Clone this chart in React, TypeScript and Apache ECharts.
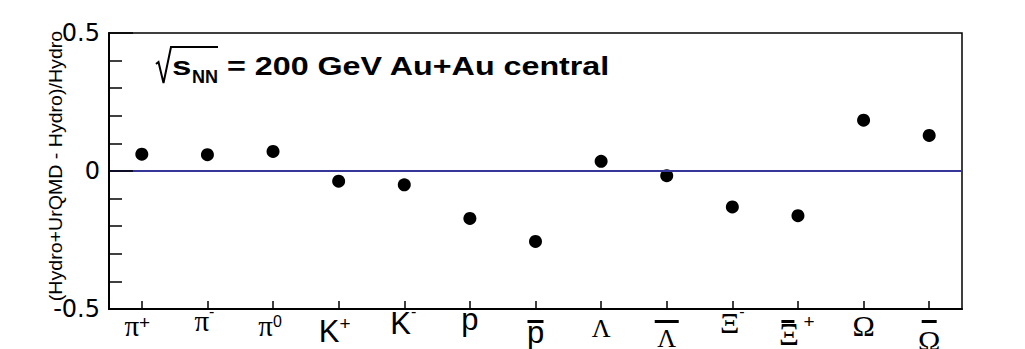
import React, { useEffect, useRef } from 'react';
import * as echarts from 'echarts';

// ---- data ----
const categories = ['π+', 'π-', 'π0', 'K+', 'K-', 'p', 'p̄', 'Λ', 'Λ̄', 'Ξ-', 'Ξ̄+', 'Ω', 'Ω̄'];
const ratios = [0.061, 0.059, 0.071, -0.037, -0.05, -0.172, -0.255, 0.035, -0.017, -0.13, -0.162, 0.184, 0.129];
const yMin = -0.5;
const yMax = 0.5;
const yStep = 0.5;
const referenceLevel = 0;
const yAxisTitle = '(Hydro+UrQMD - Hydro)/Hydro';
const titleS = 's';
const titleSub = 'NN';
const titleRest = '= 200 GeV Au+Au central';

// ---- label markup (rich text) ----
const labelMarkup: Record<string, string> = {
  'π+': '{a0|π}{b0|+}',
  'π-': '{a1|π}{b1|-}',
  'π0': '{a2|π}{b2|0}',
  'K+': '{a3|K}{b3|+}',
  'K-': '{a4|K}{b4|-}',
  'p': '{a5|p}',
  'p̄': '{bar6| }\n{a6|p}',
  'Λ': '{a7|Λ}',
  'Λ̄': '{bar8| }\n{a8|Λ}',
  'Ξ-': '{a9|Ξ}{b9|-}',
  'Ξ̄+': '{bar10| }{b10|+}\n{a10|Ξ}',
  'Ω': '{a11|Ω}',
  'Ω̄': '{bar12| }\n{a12|Ω}',
};

const SANS = 'Liberation Sans';
const SERIF = 'Liberation Serif';
const sty = (family: string, size: number, lh: number, extra: any = {}) => ({
  fontFamily: family,
  fontSize: size,
  lineHeight: lh,
  color: '#000',
  align: 'center',
  ...extra,
});
const bar = (w: number) => ({
  width: w,
  height: 3,
  lineHeight: 13,
  backgroundColor: '#000',
  verticalAlign: 'bottom',
  align: 'center',
  fontSize: 10,
});

const rich: Record<string, any> = {
  a0: sty(SERIF, 29, 31),
  b0: sty(SANS, 19, 31, { padding: [0, 9, 6, 0] }),
  a1: sty(SERIF, 29, 21),
  b1: sty(SANS, 16, 21, { padding: [0, 6, 18, 0] }),
  a2: sty(SERIF, 29, 31),
  b2: sty(SANS, 16, 31, { padding: [0, 6, 8, 0] }),
  a3: sty(SANS, 31, 42),
  b3: sty(SANS, 19, 42, { padding: [0, 8, 16, 0] }),
  a4: sty(SANS, 31, 27),
  b4: sty(SANS, 16, 27, { padding: [0, 2, 24, 0] }),
  a5: sty(SANS, 31, 18),
  bar6: bar(16),
  a6: sty(SANS, 31, 18),
  a7: sty(SERIF, 26, 37),
  bar8: bar(24),
  a8: sty(SERIF, 26, 30),
  a9: sty(SERIF, 30, 25),
  b9: sty(SANS, 16, 25, { padding: [0, 0, 22, 0] }),
  bar10: bar(13),
  b10: sty(SANS, 19, 13, { padding: [9, 0, 0, 9] }),
  a10: sty(SERIF, 31, 23, { padding: [0, 18, 0, 0] }),
  a11: sty(SERIF, 30, 31),
  bar12: bar(15),
  a12: sty(SERIF, 30, 34),
};

const option: any = {
  animation: false,
  backgroundColor: '#fff',
  grid: {
    left: 109,
    right: 63,
    top: 33,
    bottom: 40,
    show: true,
    borderColor: '#000',
    borderWidth: 1.5,
    backgroundColor: 'transparent',
    containLabel: false,
    outerBoundsMode: 'none',
  },
  xAxis: {
    type: 'category',
    data: categories,
    boundaryGap: true,
    z: 5,
    axisLine: { show: true, onZero: false, lineStyle: { color: '#000', width: 2 } },
    axisTick: { show: true, alignWithLabel: true, inside: true, length: 8, lineStyle: { color: '#000', width: 1.5 } },
    splitLine: { show: false },
    axisLabel: {
      interval: 0,
      margin: 1,
      hideOverlap: false,
      formatter: (v: string) => labelMarkup[v] ?? v,
      rich,
    },
  },
  yAxis: {
    type: 'value',
    min: yMin,
    max: yMax,
    interval: yStep,
    z: 5,
    axisLine: { show: true, onZero: false, lineStyle: { color: '#000', width: 2 } },
    axisTick: { show: true, inside: true, length: 24, lineStyle: { color: '#000', width: 1.5 } },
    minorTick: { show: true, splitNumber: 5, length: 13, lineStyle: { color: '#000', width: 1.5 } },
    splitLine: { show: false },
    minorSplitLine: { show: false },
    axisLabel: {
      color: '#000',
      fontFamily: 'DejaVu Sans',
      fontSize: 24,
      margin: 9,
      padding: [9, 0, 0, 0],
    },
  },
  series: [
    {
      type: 'scatter',
      data: ratios,
      symbol: 'circle',
      symbolSize: 13,
      itemStyle: { color: '#000', opacity: 1 },
      markLine: {
        silent: true,
        symbol: ['none', 'none'],
        label: { show: false },
        lineStyle: { color: '#35359a', width: 2, type: 'solid', opacity: 1 },
        data: [{ yAxis: referenceLevel }],
      },
    },
  ],
  graphic: [
    {
      type: 'polyline',
      shape: { points: [[156, 64], [158.5, 62], [163.5, 83], [171, 47], [218, 47]] },
      style: { stroke: '#000', lineWidth: 2, fill: null },
    },
    {
      type: 'text',
      x: 172,
      y: 66.3,
      scaleX: 1.4,
      style: { text: titleS, fontFamily: SANS, fontWeight: 'bold', fontSize: 25, fill: '#000', align: 'left', verticalAlign: 'middle' },
    },
    {
      type: 'text',
      x: 192,
      y: 76.8,
      style: { text: titleSub, fontFamily: SANS, fontWeight: 'bold', fontSize: 18, fill: '#000', align: 'left', verticalAlign: 'middle' },
    },
    {
      type: 'text',
      x: 227,
      y: 66.3,
      scaleX: 1.29,
      style: { text: titleRest, fontFamily: SANS, fontWeight: 'bold', fontSize: 25, fill: '#000', align: 'left', verticalAlign: 'middle' },
    },
    {
      type: 'text',
      x: 56,
      y: 166,
      rotation: Math.PI / 2,
      scaleX: 1.12,
      style: { text: yAxisTitle, fontFamily: SANS, fontSize: 17.5, fill: '#000', align: 'center', verticalAlign: 'middle' },
    },
  ],
};

export default function App() {
  const ref = useRef<HTMLDivElement>(null);
  useEffect(() => {
    if (!ref.current) return;
    const chart = echarts.init(ref.current, null, { renderer: 'svg' });
    chart.setOption(option);
    return () => chart.dispose();
  }, []);
  return <div ref={ref} style={{ position: 'absolute', left: 0, top: 0, width: 1025, height: 349 }} />;
}
